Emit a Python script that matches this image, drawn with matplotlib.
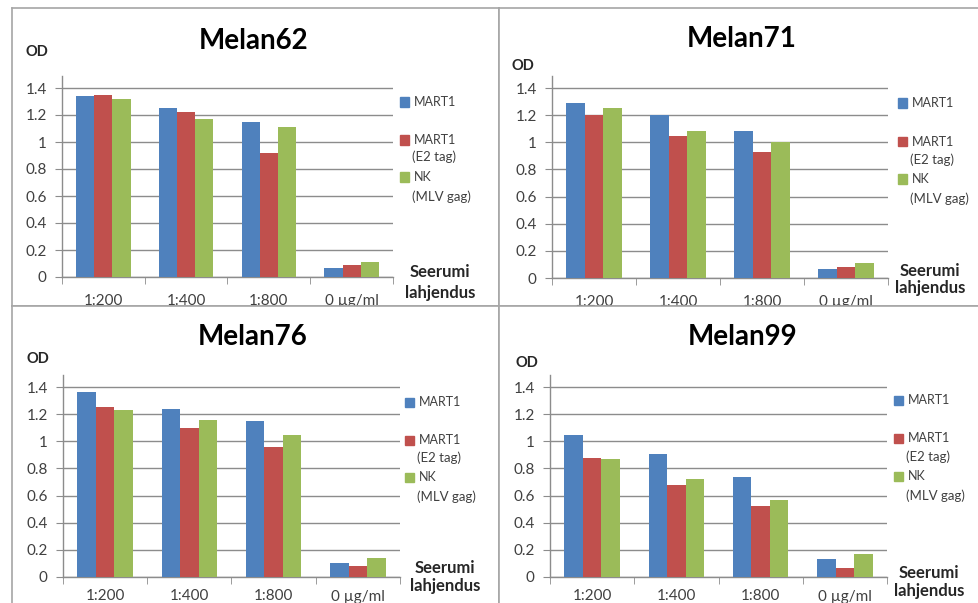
import matplotlib.pyplot as plt
from matplotlib.patches import Rectangle

W, H = 979, 603

categories = ["1:200", "1:400", "1:800", "0 µg/ml"]
series_labels = ["MART1", "MART1\n(E2 tag)", "NK\n(MLV gag)"]
colors = ["#4F81BD", "#C0504D", "#9BBB59"]
yticks = [0, 0.2, 0.4, 0.6, 0.8, 1.0, 1.2, 1.4]
ytick_labels = ["0", "0.2", "0.4", "0.6", "0.8", "1", "1.2", "1.4"]

# OD values
mart1_62 = [1.34, 1.25, 1.15, 0.07]
e2tag_62 = [1.35, 1.22, 0.92, 0.09]
nk_62 = [1.32, 1.17, 1.11, 0.11]

mart1_71 = [1.29, 1.20, 1.08, 0.07]
e2tag_71 = [1.20, 1.05, 0.93, 0.08]
nk_71 = [1.25, 1.08, 1.00, 0.11]

mart1_76 = [1.36, 1.24, 1.15, 0.10]
e2tag_76 = [1.25, 1.10, 0.96, 0.08]
nk_76 = [1.23, 1.16, 1.05, 0.14]

mart1_99 = [1.05, 0.91, 0.74, 0.13]
e2tag_99 = [0.88, 0.68, 0.52, 0.07]
nk_99 = [0.87, 0.72, 0.57, 0.17]

plt.rcParams["font.family"] = ["Lato", "DejaVu Sans"]

GRID = "#8c8c8c"
TXT = "#404040"
YTOP = 1.49


def fx(x):
    return x / W


def fy(y):
    return 1 - y / H


# layout in pixels: panel box, plot x-range, y of zero line, px per unit,
# title, OD label, legend square x, legend rows y, axis caption
panels = [
    dict(title="Melan62", data=[mart1_62, e2tag_62, nk_62], z=0, pad=12,
         box=(12, 8, 499, 306), px=(62, 393), y0=277, ppu=135.0,
         title_xy=(254, 41), od_xy=(37, 52), sq_x=400,
         rows=[(102,), (140, 157), (177, 197)], cap_xy=(440, 272, 293)),
    dict(title="Melan71", data=[mart1_71, e2tag_71, nk_71], z=0, pad=12,
         box=(499, 8, 990, 306), px=(552, 888), y0=278, ppu=135.7,
         title_xy=(742, 39), od_xy=(523, 66), sq_x=898,
         rows=[(103,), (142, 160), (179, 199)], cap_xy=(930, 271, 288)),
    dict(title="Melan76", data=[mart1_76, e2tag_76, nk_76], z=2, pad=9,
         box=(12, 306, 499, 620), px=(63, 400), y0=577, ppu=135.7,
         title_xy=(253, 337), od_xy=(38, 359), sq_x=405,
         rows=[(402,), (440, 458), (477, 497)], cap_xy=(445, 568, 586)),
    dict(title="Melan99", data=[mart1_99, e2tag_99, nk_99], z=2, pad=9,
         box=(499, 306, 990, 620), px=(550, 887), y0=577, ppu=135.7,
         title_xy=(743, 337), od_xy=(527, 363), sq_x=894,
         rows=[(400,), (438, 457), (476, 496)], cap_xy=(929, 573, 591)),
]

fig = plt.figure(figsize=(W / 100, H / 100), dpi=100)
fig.patch.set_facecolor("white")

width = 0.22
for p in panels:
    # white panel frame (bottom panels cover the clipped top tick labels)
    x0, y0, x1, y1 = p["box"]
    bg = fig.add_axes([fx(x0), fy(y1), (x1 - x0) / W, (y1 - y0) / H])
    bg.set_zorder(p["z"])
    bg.set_facecolor("white")
    bg.set_xticks([])
    bg.set_yticks([])
    for s in bg.spines.values():
        s.set_color("#a6a6a6")
        s.set_linewidth(1.2)

    ax_h = YTOP * p["ppu"]
    ax = fig.add_axes([fx(p["px"][0]), fy(p["y0"]), (p["px"][1] - p["px"][0]) / W, ax_h / H])
    ax.set_zorder(p["z"] + 1)
    ax.patch.set_alpha(0)

    for i, vals in enumerate(p["data"]):
        xs = [k + (i - 1) * width for k in range(len(categories))]
        ax.bar(xs, vals, width=width, color=colors[i], linewidth=0, zorder=3)

    ax.set_xlim(-0.5, 3.5)
    ax.set_ylim(0, YTOP)
    ax.set_yticks(yticks, ytick_labels)
    ax.set_xticks(range(len(categories)), categories)
    ax.set_xticks([-0.5, 0.5, 1.5, 2.5, 3.5], minor=True)
    ax.tick_params(axis="x", which="major", length=0, pad=p["pad"], labelsize=11, labelcolor=TXT)
    ax.tick_params(axis="x", which="minor", length=5, color=GRID, direction="out")
    ax.tick_params(axis="y", length=5, color=GRID, pad=6, labelsize=11, labelcolor=TXT)
    ax.yaxis.grid(True, color=GRID, linewidth=1)
    ax.set_axisbelow(True)
    for side in ("top", "right"):
        ax.spines[side].set_visible(False)
    for side in ("left", "bottom"):
        ax.spines[side].set_color(GRID)
        ax.spines[side].set_linewidth(1)

    tr = fig.transFigure
    tx, ty = p["title_xy"]
    ax.text(fx(tx), fy(ty), p["title"], transform=tr, ha="center", va="center",
            fontsize=20, fontweight="bold", color="black")
    ox, oy = p["od_xy"]
    ax.text(fx(ox), fy(oy), "OD", transform=tr, ha="center", va="center",
            fontsize=10.5, fontweight="bold", color="#262626")

    # legend: square beside the first line, wrapped second line below
    sq = 9
    for i, row in enumerate(p["rows"]):
        lines = series_labels[i].split("\n")
        yc = row[0]
        ax.add_patch(Rectangle((fx(p["sq_x"]), fy(yc + sq / 2)), sq / W, sq / H,
                               transform=tr, color=colors[i], clip_on=False))
        ax.text(fx(p["sq_x"] + sq + 5), fy(yc), lines[0], transform=tr, ha="left",
                va="center", fontsize=9, color=TXT)
        if len(lines) > 1:
            ax.text(fx(p["sq_x"] + sq + 3), fy(row[1]), lines[1], transform=tr,
                    ha="left", va="center", fontsize=9.5, color=TXT)

    cx, cy1, cy2 = p["cap_xy"]
    ax.text(fx(cx), fy(cy1), "Seerumi", transform=tr, ha="center", va="center",
            fontsize=12, fontweight="bold", color="#262626")
    ax.text(fx(cx), fy(cy2), "lahjendus", transform=tr, ha="center", va="center",
            fontsize=12, fontweight="bold", color="#262626")

fig.savefig("out.png", dpi=100)
